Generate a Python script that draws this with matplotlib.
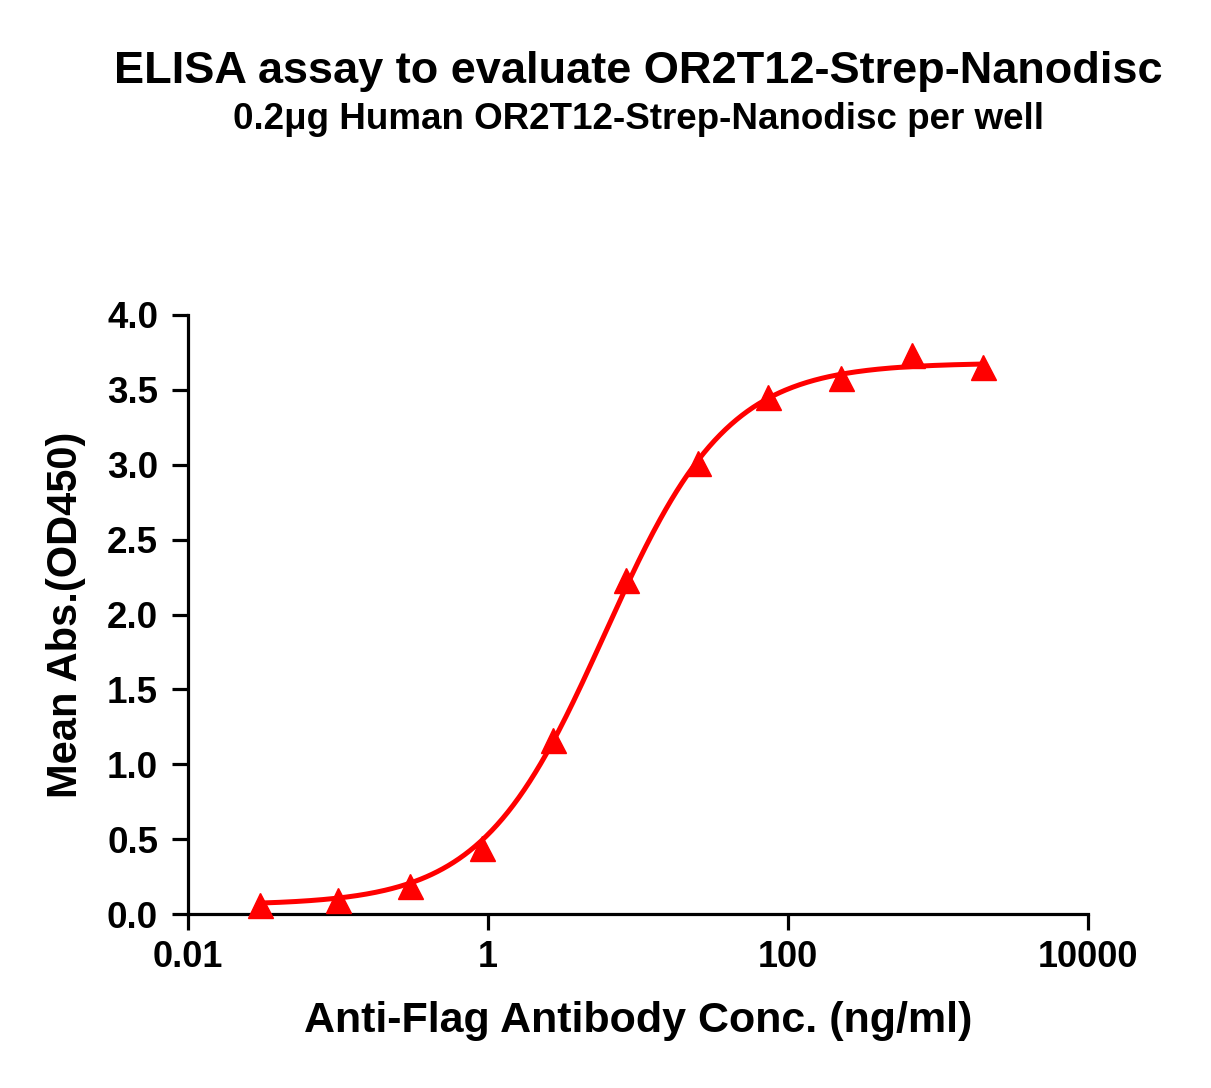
import numpy as np
import matplotlib
matplotlib.use('Agg')
import matplotlib.pyplot as plt

plt.rcParams['font.family'] = ['Liberation Sans', 'DejaVu Sans']
plt.rcParams['font.weight'] = 'bold'

# Antibody concentration (ng/ml) and mean OD450
conc = [0.03, 0.1, 0.302, 0.91, 2.7, 8.3, 25.0, 73.6, 225.0, 671.0, 2000.0]
od450 = [0.06, 0.093, 0.19, 0.44, 1.16, 2.23, 3.01, 3.45, 3.58, 3.73, 3.65]

# 4-parameter logistic fit parameters (bottom, top, EC50, hill)
fit_bottom = 0.06
fit_top = 3.68
fit_ec50 = 6.0
fit_hill = 1.06

x_ticks = [0.01, 1, 100, 10000]
x_tick_labels = ['0.01', '1', '100', '10000']
y_ticks = [0.0, 0.5, 1.0, 1.5, 2.0, 2.5, 3.0, 3.5, 4.0]

red = '#ff0000'

fig = plt.figure(figsize=(12.11, 10.88), dpi=100)
ax = fig.add_axes([0.1552, 0.1599, 0.7432, 0.5506])

xs = np.logspace(np.log10(conc[0]), np.log10(conc[-1]), 400)
ys = fit_bottom + (fit_top - fit_bottom) / (1 + (fit_ec50 / xs) ** fit_hill)
ax.plot(xs, ys, color=red, lw=3.6, solid_capstyle='round', zorder=3, clip_on=False)
ax.plot(conc, od450, ls='none', marker='^', ms=18, color=red, zorder=4, clip_on=False)

ax.set_xscale('log')
ax.set_xlim(0.01, 10000)
ax.set_ylim(0, 4.0)
ax.set_xticks(x_ticks)
ax.set_xticklabels(x_tick_labels)
ax.xaxis.set_minor_locator(matplotlib.ticker.NullLocator())
ax.set_yticks(y_ticks)
ax.set_yticklabels(['%.1f' % v for v in y_ticks])

for s in ['top', 'right']:
    ax.spines[s].set_visible(False)
for s in ['left', 'bottom']:
    ax.spines[s].set_linewidth(2.3)
ax.tick_params(axis='x', width=2.3, length=11.5, labelsize=26, pad=7)
ax.tick_params(axis='y', width=2.3, length=11.5, labelsize=26.5, pad=10)

ax.set_xlabel('Anti-Flag Antibody Conc. (ng/ml)', fontsize=31, fontweight='bold', labelpad=19)
ax.set_ylabel('Mean Abs.(OD450)', fontsize=30, fontweight='bold', labelpad=15)

fig.text(0.527, 0.934, 'ELISA assay to evaluate OR2T12-Strep-Nanodisc',
         ha='center', va='center', fontsize=32.5, fontweight='bold')
fig.text(0.527, 0.890, '0.2μg Human OR2T12-Strep-Nanodisc per well',
         ha='center', va='center', fontsize=26.5, fontweight='bold')

fig.savefig('out.png', dpi=100)
